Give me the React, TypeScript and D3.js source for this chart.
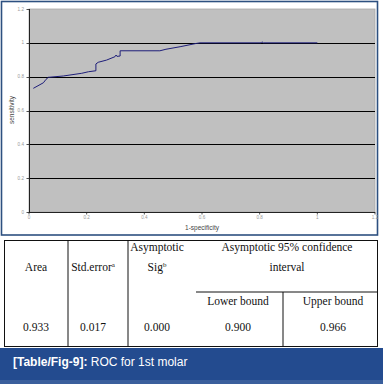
import React from "react";
import * as d3 from "d3";

const fpr = [0.015, 0.05, 0.059, 0.067, 0.119, 0.183, 0.206, 0.232, 0.232, 0.24, 0.269, 0.298, 0.302, 0.305, 0.316, 0.316, 0.454, 0.475, 0.524, 0.582, 0.593, 0.805, 0.808, 0.812, 1.0];
const tpr = [0.731, 0.764, 0.784, 0.796, 0.804, 0.82, 0.829, 0.835, 0.875, 0.885, 0.898, 0.918, 0.928, 0.92, 0.922, 0.953, 0.953, 0.962, 0.977, 0.997, 1.0, 1.0, 1.006, 1.0, 1.0];
const xTicks = [0, 0.2, 0.4, 0.6, 0.8, 1, 1.2];
const yTicks = [0, 0.2, 0.4, 0.6, 0.8, 1, 1.2];

const headArea = "Area";
const headErr = "Std.error";
const headSig1 = "Asymptotic";
const headSig2 = "Sig";
const headCI1 = "Asymptotic 95% confidence";
const headCI2 = "interval";
const headLower = "Lower bound";
const headUpper = "Upper bound";
const rowValues = ["0.933", "0.017", "0.000", "0.900", "0.966"];
const captionBold = "[Table/Fig-9]:";
const captionText = " ROC for 1st molar";

export default function App() {
  const x = d3.scaleLinear().domain([0, 1.2]).range([29, 375]);
  const y = d3.scaleLinear().domain([0, 1.2]).range([212, 9]);
  const pts = fpr.map((v, i) => [v, tpr[i]] as [number, number]);
  const line = d3.line<[number, number]>().x((d) => x(d[0])).y((d) => y(d[1]));
  const serif = "'Liberation Serif', 'Times New Roman', serif";
  const sans = "'Liberation Sans', Arial, sans-serif";
  const fs = 11.5;
  const valCx = [36, 93, 157, 238, 333];
  const crisp = (v: number) => Math.round(v) + 0.5;
  return (
    <svg width={383} height={384} style={{ position: "absolute", left: 0, top: 0, background: "#fff" }}>
      <rect x={0} y={0} width={383} height={384} fill="#fff" />
      {/* top panel border */}
      <rect x={1.5} y={1.5} width={376} height={233.5} fill="none" stroke="#2d5080" strokeWidth={1.6} />
      {/* plot area */}
      <rect x={29} y={9} width={346} height={203} fill="#c0c0c0" stroke="#a8a8a8" strokeWidth={0.8} />
      {yTicks.filter((t) => t > 0 && t < 1.2).map((t) => (
        <line key={"g" + t} x1={29} x2={375} y1={crisp(y(t))} y2={crisp(y(t))} stroke="#000" strokeWidth={1} />
      ))}
      <line x1={29.5} x2={29.5} y1={9} y2={212} stroke="#222" strokeWidth={1} />
      <line x1={29} x2={375} y1={212.5} y2={212.5} stroke="#222" strokeWidth={1} />
      {yTicks.map((t) => (
        <g key={"y" + t}>
          <line x1={26.5} x2={29} y1={crisp(y(t))} y2={crisp(y(t))} stroke="#222" strokeWidth={0.8} />
          <text x={24} y={y(t) + 1.6} fontSize={4.6} fill="#999" textAnchor="end" fontFamily={sans}>{String(t)}</text>
        </g>
      ))}
      {xTicks.map((t) => (
        <g key={"x" + t}>
          <line x1={x(t)} x2={x(t)} y1={212} y2={214.5} stroke="#222" strokeWidth={0.8} />
          <text x={x(t)} y={218.5} fontSize={4.6} fill="#999" textAnchor="middle" fontFamily={sans}>{String(t)}</text>
        </g>
      ))}
      <text x={202} y={230} fontSize={6.5} fill="#444" textAnchor="middle" fontFamily={sans}>1-specificity</text>
      <text transform="translate(14,110) rotate(-90)" fontSize={6.5} fill="#444" textAnchor="middle" fontFamily={sans}>sensitivity</text>
      <path d={line(pts) || ""} fill="none" stroke="#1e1e7a" strokeWidth={1} />

      {/* table */}
      <rect x={4.5} y={240.5} width={373} height={106} fill="#fff" stroke="#111" strokeWidth={1} />
      <line x1={68} x2={68} y1={240.5} y2={346.5} stroke="#111" strokeWidth={1} />
      <line x1={128} x2={128} y1={240.5} y2={346.5} stroke="#111" strokeWidth={1} />
      <line x1={196} x2={377.5} y1={292} y2={292} stroke="#111" strokeWidth={1} />
      <line x1={283} x2={283} y1={292} y2={346.5} stroke="#111" strokeWidth={1} />
      <g fontFamily={serif} fontSize={fs} fill="#111" textAnchor="middle">
        <text x={157} y={251}>{headSig1}</text>
        <text x={287} y={251}>{headCI1}</text>
        <text x={36} y={271}>{headArea}</text>
        <text x={93} y={271}>{headErr}<tspan fontSize={7} dy={-4}>a</tspan></text>
        <text x={157} y={271}>{headSig2}<tspan fontSize={7} dy={-4}>b</tspan></text>
        <text x={287} y={271}>{headCI2}</text>
        <text x={238} y={305}>{headLower}</text>
        <text x={333} y={305}>{headUpper}</text>
        {rowValues.map((v, i) => (
          <text key={"v" + i} x={valCx[i]} y={331}>{v}</text>
        ))}
      </g>

      {/* caption band */}
      <rect x={0} y={348} width={383} height={36} fill="#234b8f" />
      <rect x={0} y={380} width={383} height={4} fill="#3a5f9c" />
      <text x={13} y={366} fontSize={12} fill="#fff" fontFamily={sans}>
        <tspan fontWeight="bold">{captionBold}</tspan>
        <tspan>{captionText}</tspan>
      </text>
    </svg>
  );
}
